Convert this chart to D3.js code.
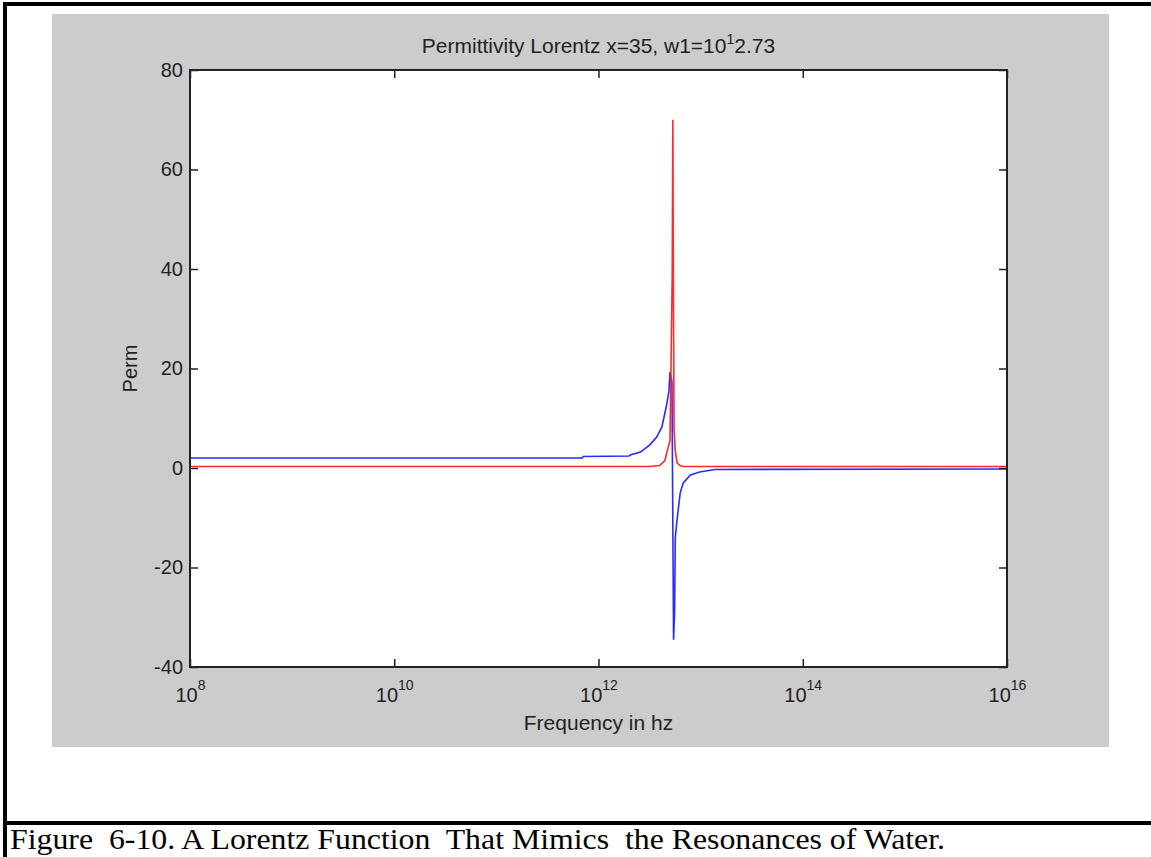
<!DOCTYPE html>
<html>
<head>
<meta charset="utf-8">
<script src="https://cdn.jsdelivr.net/npm/d3@7"></script>
<style>
  body { margin: 0; background: #fff; }
  svg { display: block; }
  .axis text { font-family: "Liberation Sans", Arial, sans-serif; font-size: 20px; fill: #222; }
  .axis line { stroke: #222; stroke-width: 1.5; }
</style>
</head>
<body>
<div id="chart"></div>
<script>
// decade exponents used for the x ticks
var xTickExps = [8, 10, 12, 14, 16];
var yTicks = [-40, -20, 0, 20, 40, 60, 80];

// red curve: log10(frequency) and value
var redLogF = [8, 12.50, 12.60, 12.65, 12.68, 12.70, 12.722, 12.728, 12.733, 12.74, 12.75, 12.77, 12.80, 12.83, 16];
var redVal  = [0.3, 0.3, 0.5, 1.5, 4.0, 5.5, 39, 70, 38, 8, 3.8, 1.0, 0.5, 0.3, 0.3];

// blue curve: log10(frequency) and value
var blueLogF = [8, 11.84, 11.85, 12.30, 12.31, 12.41, 12.50, 12.57, 12.62, 12.65, 12.67, 12.69, 12.700,
                12.719, 12.735, 12.745, 12.752, 12.766, 12.784, 12.80, 12.83, 12.90, 12.99, 13.14, 16];
var blueVal  = [2.0, 2.0, 2.3, 2.4, 2.6, 3.2, 4.6, 6.2, 8.2, 11, 13, 15.5, 19.3,
                17.3, -34.5, -29, -14, -11, -7.8, -5, -3, -1.4, -0.8, -0.3, -0.2];

var titleMain = "Permittivity Lorentz x=35, w1=10",
    titleSup = "1",
    titleTail = "2.73";
var xLabel = "Frequency in hz",
    yLabel = "Perm";
var caption = "Figure  6-10. A Lorentz Function  That Mimics  the Resonances of Water.";

var WIDTH = 1151,
    HEIGHT = 857,
    PLOT = {left: 190, right: 1007, top: 70, bottom: 667};

var svg = d3.select("#chart").append("svg")
  .attr("width", WIDTH)
  .attr("height", HEIGHT);

// page frame lines
svg.append("rect").attr("x", 3).attr("y", 2).attr("width", WIDTH - 3).attr("height", 4).attr("fill", "#000");
svg.append("rect").attr("x", 3).attr("y", 2).attr("width", 4).attr("height", HEIGHT - 2).attr("fill", "#000");
svg.append("rect").attr("x", 3).attr("y", 821).attr("width", WIDTH - 3).attr("height", 4).attr("fill", "#000");

// grey figure background
svg.append("rect")
  .attr("x", 52).attr("y", 14)
  .attr("width", 1057).attr("height", 733)
  .attr("fill", "#cccccc");

svg.append("rect")
  .attr("x", PLOT.left).attr("y", PLOT.top)
  .attr("width", PLOT.right - PLOT.left).attr("height", PLOT.bottom - PLOT.top)
  .attr("fill", "#fff");

var xScale = d3.scaleLog().domain([1e8, 1e16]).range([PLOT.left, PLOT.right]);
var yScale = d3.scaleLinear().domain([-40, 80]).range([PLOT.bottom, PLOT.top]);
var xTicks = xTickExps.map(function(e) { return Math.pow(10, e); });

svg.append("clipPath").attr("id", "plotclip")
  .append("rect")
  .attr("x", PLOT.left).attr("y", PLOT.top)
  .attr("width", PLOT.right - PLOT.left).attr("height", PLOT.bottom - PLOT.top);

var lineFunc = d3.line()
  .x(function(d) { return xScale(Math.pow(10, d[0])); })
  .y(function(d) { return yScale(d[1]); });

var blueData = blueLogF.map(function(f, i) { return [f, blueVal[i]]; });
var redData = redLogF.map(function(f, i) { return [f, redVal[i]]; });

var lines = svg.append("g").attr("clip-path", "url(#plotclip)");
lines.append("path")
  .attr("d", lineFunc(blueData))
  .attr("stroke", "#2a2aff")
  .attr("stroke-width", 1.6)
  .attr("fill", "none");
lines.append("path")
  .attr("d", lineFunc(redData))
  .attr("stroke", "#ff2a2a")
  .attr("stroke-width", 1.6)
  .attr("fill", "none");

// axes, ticks pointing inwards like MATLAB
var xAxis = d3.axisBottom(xScale).tickValues(xTicks).tickSizeInner(-8).tickSizeOuter(0).tickFormat("");
var xAxisTop = d3.axisTop(xScale).tickValues(xTicks).tickSizeInner(-8).tickSizeOuter(0).tickFormat("");
var yAxis = d3.axisLeft(yScale).tickValues(yTicks).tickSizeInner(-8).tickSizeOuter(0).tickPadding(7)
  .tickFormat(function(d) { return String(d); });
var yAxisRight = d3.axisRight(yScale).tickValues(yTicks).tickSizeInner(-8).tickSizeOuter(0).tickFormat("");

var gx = svg.append("g").attr("class", "axis").attr("transform", "translate(0," + PLOT.bottom + ")").call(xAxis);
svg.append("g").attr("class", "axis").attr("transform", "translate(0," + PLOT.top + ")").call(xAxisTop);
var gy = svg.append("g").attr("class", "axis").attr("transform", "translate(" + PLOT.left + ",0)").call(yAxis);
svg.append("g").attr("class", "axis").attr("transform", "translate(" + PLOT.right + ",0)").call(yAxisRight);
svg.selectAll(".axis .domain").remove();
gy.selectAll("text").attr("fill", "#222");

// x tick labels as 10 with a superscript exponent
gx.selectAll(".tick").each(function(d, i) {
  var t = d3.select(this).select("text")
    .attr("y", 35).attr("dy", null)
    .attr("fill", "#222")
    .text("10");
  t.append("tspan")
    .attr("dy", -12)
    .style("font-size", "14px")
    .text(xTickExps[i]);
});

svg.append("rect")
  .attr("x", PLOT.left).attr("y", PLOT.top)
  .attr("width", PLOT.right - PLOT.left).attr("height", PLOT.bottom - PLOT.top)
  .attr("fill", "none")
  .attr("stroke", "#222")
  .attr("stroke-width", 2);

var sans = "'Liberation Sans', Arial, sans-serif";

var title = svg.append("text")
  .attr("x", (PLOT.left + PLOT.right) / 2)
  .attr("y", 53)
  .attr("text-anchor", "middle")
  .attr("font-family", sans)
  .attr("font-size", 21)
  .attr("fill", "#222")
  .text(titleMain);
title.append("tspan").attr("dy", -9).attr("font-size", 14).text(titleSup);
title.append("tspan").attr("dy", 9).text(titleTail);

svg.append("text")
  .attr("x", (PLOT.left + PLOT.right) / 2)
  .attr("y", 730)
  .attr("text-anchor", "middle")
  .attr("font-family", sans)
  .attr("font-size", 21)
  .attr("fill", "#222")
  .text(xLabel);

svg.append("text")
  .attr("transform", "translate(137," + ((PLOT.top + PLOT.bottom) / 2) + ") rotate(-90)")
  .attr("text-anchor", "middle")
  .attr("font-family", sans)
  .attr("font-size", 20)
  .attr("fill", "#222")
  .text(yLabel);

svg.append("text")
  .attr("x", 10)
  .attr("y", 849)
  .attr("font-family", "'Liberation Serif', 'Times New Roman', serif")
  .attr("font-size", 30)
  .attr("fill", "#000")
  .style("white-space", "pre")
  .attr("textLength", 935)
  .attr("lengthAdjust", "spacingAndGlyphs")
  .text(caption);
</script>
</body>
</html>
